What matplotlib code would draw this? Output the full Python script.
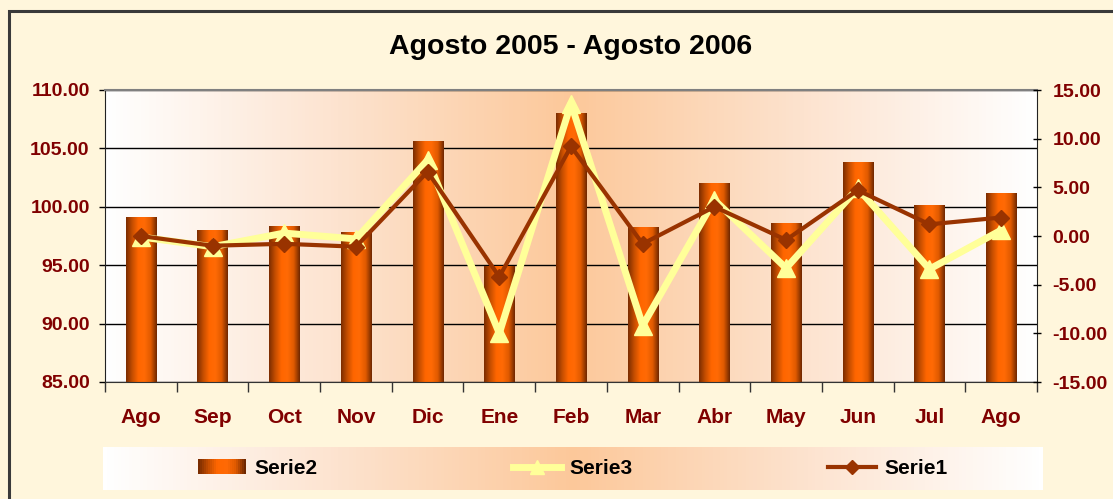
import numpy as np
import matplotlib
matplotlib.use('Agg')
import matplotlib.pyplot as plt
from matplotlib.colors import LinearSegmentedColormap
from matplotlib.patches import Rectangle
from matplotlib.lines import Line2D
from matplotlib.legend_handler import HandlerBase

plt.rcParams['font.family'] = ['Liberation Sans', 'DejaVu Sans']
plt.rcParams['font.weight'] = 'bold'

months = ['Ago', 'Sep', 'Oct', 'Nov', 'Dic', 'Ene', 'Feb', 'Mar', 'Abr', 'May', 'Jun', 'Jul', 'Ago']
serie2 = [99.1, 98.0, 98.3, 97.8, 105.6, 94.9, 108.0, 98.2, 102.0, 98.6, 103.8, 100.1, 101.1]
serie3 = [-0.1, -1.1, 0.3, -0.3, 7.8, -10.0, 13.6, -9.2, 3.7, -3.3, 4.9, -3.4, 0.6]
serie1 = [0.0, -1.0, -0.8, -1.1, 6.6, -4.2, 9.2, -0.8, 3.0, -0.4, 4.7, 1.2, 1.9]

tick_col = '#800000'
bar_cmap = LinearSegmentedColormap.from_list(
    'bar', ['#7a2c00', '#c44d00', '#ff6600', '#ff6a05', '#e05a00', '#6e2700'])
bg_cmap = LinearSegmentedColormap.from_list(
    'bg', ['#ffffff', '#fde3cf', '#fcc89a', '#fde3cf', '#ffffff'])

fig = plt.figure(figsize=(11.13, 4.99), dpi=100, facecolor='#fff6dc')

# outer frame
fig.patches.append(Rectangle((9 / 1113, -0.1), 1.2, 1.1 - 11 / 499, transform=fig.transFigure,
                             fill=False, ec='#3a3a3a', lw=2.2))

ax1 = fig.add_axes([105 / 1113, 1 - 382 / 499, 932 / 1113, 292 / 499])
ax1.patch.set_visible(False)
grad = np.linspace(0, 1, 256).reshape(1, -1)
ax1.imshow(grad, cmap=bg_cmap, extent=[0, 1, 0, 1], transform=ax1.transAxes,
           aspect='auto', zorder=-2)

x = np.arange(len(months))
w = 0.42
for xi, v in zip(x, serie2):
    ax1.imshow(grad, cmap=bar_cmap, extent=[xi - w / 2, xi + w / 2, 85, v],
               aspect='auto', zorder=2)

ax1.set_xlim(-0.5, len(months) - 0.5)
ax1.set_ylim(85, 110)
ax1.set_yticks(np.arange(85, 110.1, 5))
ax1.set_yticklabels(['%.2f' % t for t in np.arange(85, 110.1, 5)])
ax1.yaxis.grid(True, color='black', lw=1)
ax1.set_axisbelow(True)
ax1.set_xticks(x)
ax1.set_xticklabels(months)
ax1.set_xticks(np.arange(-0.5, len(months), 1), minor=True)
ax1.tick_params(axis='x', which='major', length=0, pad=19, labelsize=15, labelcolor=tick_col)
ax1.tick_params(axis='x', which='minor', length=7, width=1, direction='out', color='#333333')
ax1.tick_params(axis='y', length=4.5, width=1, pad=6.5, labelsize=14, labelcolor=tick_col)
for lab in ax1.get_xticklabels() + ax1.get_yticklabels():
    lab.set_fontweight('bold')
ax1.spines['top'].set_color('#808080')
ax1.spines['top'].set_linewidth(1.5)
ax1.spines['bottom'].set_color('#333333')
ax1.spines['left'].set_color('#222222')
ax1.spines['right'].set_color('#222222')

ax2 = ax1.twinx()
ax2.plot(x, serie3, color='#ffff99', lw=5, marker='^', ms=13, mec='#ffff99', zorder=3)
ax2.plot(x, serie1, color='#993300', lw=3, marker='D', ms=8, mec='#993300', zorder=4)
ax2.set_ylim(-15, 15)
ax2.set_yticks(np.arange(-15, 15.1, 5))
ax2.set_yticklabels(['%.2f' % t for t in np.arange(-15, 15.1, 5)])
ax2.tick_params(axis='y', length=6, width=1, direction='inout', pad=8, labelsize=14,
                labelcolor=tick_col)
for lab in ax2.get_yticklabels():
    lab.set_fontweight('bold')
for s in ax2.spines.values():
    s.set_visible(False)

fig.text(571 / 1113, 1 - 47 / 499, 'Agosto 2005 - Agosto 2006', ha='center', va='center',
         fontsize=20.5, fontweight='bold', color='black')

# legend box
lax = fig.add_axes([103 / 1113, 1 - 490 / 499, 940 / 1113, 43 / 499])
lax.imshow(grad, cmap=bg_cmap, extent=[0, 1, 0, 1], aspect='auto')
lax.set_xlim(0, 1)
lax.set_ylim(0, 1)
lax.axis('off')


class GradHandler(HandlerBase):
    def create_artists(self, legend, orig, xd, yd, width, height, fontsize, trans):
        n = 24
        arts = []
        for i in range(n):
            arts.append(Rectangle((xd + width * i / n, yd), width / n + 0.3, height,
                                  fc=bar_cmap(i / (n - 1)), ec='none', transform=trans))
        return arts


h2 = Rectangle((0, 0), 1, 1)
h3 = Line2D([], [], color='#ffff99', lw=5, marker='^', ms=10, mec='#ffff99')
h1 = Line2D([], [], color='#993300', lw=3, marker='D', ms=7, mec='#993300')
lax.legend([h2, h3, h1], ['Serie2', 'Serie3', 'Serie1'], loc='center', ncol=3,
           frameon=False, handler_map={Rectangle: GradHandler()},
           prop={'size': 15, 'weight': 'bold'}, handlelength=2.3, handletextpad=0.4,
           columnspacing=9.4)

fig.savefig('out.png', dpi=100, facecolor=fig.get_facecolor())
